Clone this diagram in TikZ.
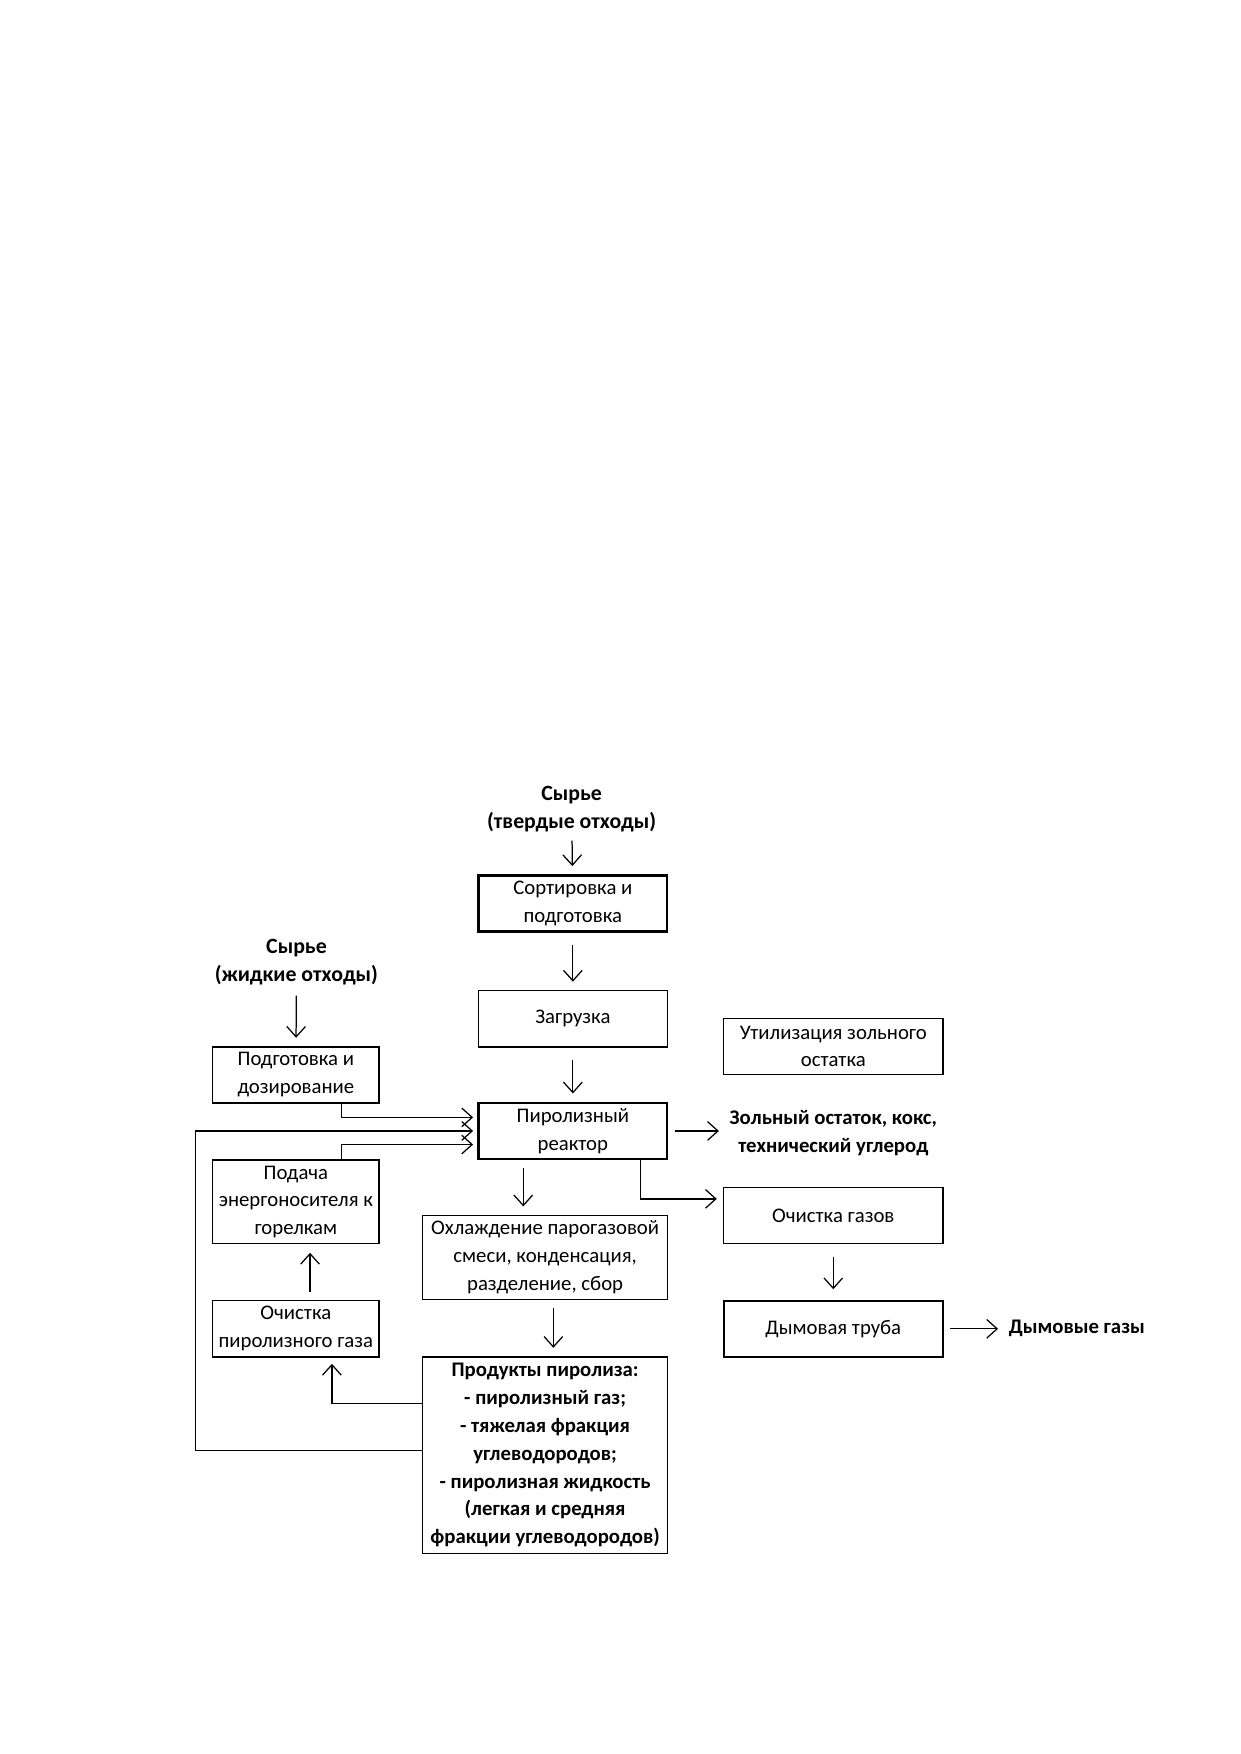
\documentclass[tikz,border=0pt]{standalone}
\usepackage{fontspec}
\setmainfont{Carlito}
\usetikzlibrary{arrows.meta,calc,positioning}

\newcommand{\flowfont}{\fontsize{10}{13.4}\selectfont}

\tikzset{
  stage/.style={draw, line width=0.7pt, align=center, inner sep=1pt,
    minimum width=3.2cm, minimum height=0.95cm, font=\flowfont},
  mainstage/.style={stage, line width=1.1pt},
  sidestage/.style={stage, minimum width=2.82cm},
  outlabel/.style={align=center, inner sep=1pt, font=\flowfont\bfseries},
  flow/.style={->, line width=0.6pt},
}

\begin{document}
\begin{tikzpicture}[>={Straight Barb[length=5pt,width=9pt]}]
  \useasboundingbox (0,0) rectangle (21,-29.7);

  % ============================================================
  % CENTRAL COLUMN: solid waste line
  % ============================================================
  \node[outlabel, font=\fontsize{10.5}{13.4}\selectfont\bfseries]
    (rawsolid) at (9.68,-13.70) {Сырье\\(твердые отходы)};
  \node[mainstage] (sort) at (9.70,-15.30) {Сортировка и\\подготовка};
  \node[stage] (load) at (9.70,-17.25) {Загрузка};
  \node[mainstage] (reactor) at (9.70,-19.15) {Пиролизный\\реактор};
  \node[stage, minimum width=4.15cm, minimum height=1.42cm]
    (cool) at (9.23,-21.29)
    {Охлаждение парогазовой\\смеси, конденсация,\\разделение, сбор};
  \node[stage, minimum width=4.15cm, minimum height=3.33cm,
        font=\flowfont\bfseries]
    (products) at (9.23,-24.64) {%
    Продукты пиролиза:\\
    - пиролизный газ;\\
    - тяжелая фракция\\
    углеводородов;\\
    - пиролизная жидкость\\
    (легкая и средняя\\
    фракции углеводородов)};

  % ============================================================
  % RIGHT COLUMN: ash and gases
  % ============================================================
  \node[stage, minimum width=3.71cm] (ashuse) at (14.11,-17.72)
    {Утилизация зольного\\остатка};
  \node[outlabel] (ash) at (14.11,-19.19)
    {Зольный остаток, кокс,\\технический углерод};
  \node[stage, minimum width=3.71cm] (gasclean) at (14.11,-20.58)
    {Очистка газов};
  \node[mainstage, minimum width=3.71cm] (stack) at (14.11,-22.50)
    {Дымовая труба};
  \node[outlabel, anchor=west] (flue) at (17.04,-22.50) {Дымовые газы};

  % ============================================================
  % LEFT COLUMN: liquid waste and burners
  % ============================================================
  \node[outlabel, font=\fontsize{10.5}{13.4}\selectfont\bfseries]
    (rawliquid) at (5.02,-16.29) {Сырье\\(жидкие отходы)};
  \node[sidestage] (dosing) at (5.01,-18.20) {Подготовка и\\дозирование};
  \node[sidestage, minimum height=1.42cm] (burners) at (5.01,-20.35)
    {Подача\\энергоносителя к\\горелкам};
  \node[sidestage] (gaspurge) at (5.01,-22.50)
    {Очистка\\пиролизного газа};

  \coordinate (loopleft) at (3.31,-19.15);

  % Arrows
  \draw[flow, shorten <=3pt, shorten >=4pt] (rawsolid) -- (sort);
  \draw[flow, shorten <=6pt, shorten >=4pt] (sort) -- (load);
  \draw[flow, shorten <=6pt, shorten >=4pt] (load) -- (reactor);
  \draw[flow, shorten <=4pt, shorten >=4pt]
    ([xshift=-0.84cm]reactor.south) -- ([xshift=-0.84cm]reactor.south |- cool.north);
  \draw[flow, shorten <=4pt, shorten >=4pt]
    ([xshift=0.14cm]cool.south) -- ([xshift=0.14cm]cool.south |- products.north);
  \draw[flow, shorten <=3pt, shorten >=4pt]
    (reactor.east) -- (reactor.east -| ash.west);
  \draw[flow, shorten >=3pt]
    ([xshift=1.15cm]reactor.south) |- ([yshift=0.28cm]gasclean.west);
  \draw[flow, shorten <=6pt, shorten >=5pt] (gasclean) -- (stack);
  \draw[flow, shorten <=3pt, shorten >=4pt] (stack) -- (flue);

  \draw[flow, shorten <=4pt, shorten >=4pt] (rawliquid) -- (dosing);
  \draw[flow, shorten >=2pt]
    ([xshift=0.77cm]dosing.south) |- ([yshift=0.23cm]reactor.west);
  \draw[flow, shorten >=2pt]
    ([yshift=0.08cm]products.west) -| (loopleft) -- (reactor.west);
  \draw[flow, shorten >=2pt]
    ([xshift=0.77cm]burners.north) |- ([yshift=-0.23cm]reactor.west);
  \draw[flow, shorten <=4pt, shorten >=4pt]
    ([xshift=0.24cm]gaspurge.north) -- ([xshift=0.24cm]burners.south);
  \draw[flow, shorten >=3pt]
    ([yshift=0.88cm]products.west) -| ([xshift=0.61cm]gaspurge.south);

\end{tikzpicture}
\end{document}
